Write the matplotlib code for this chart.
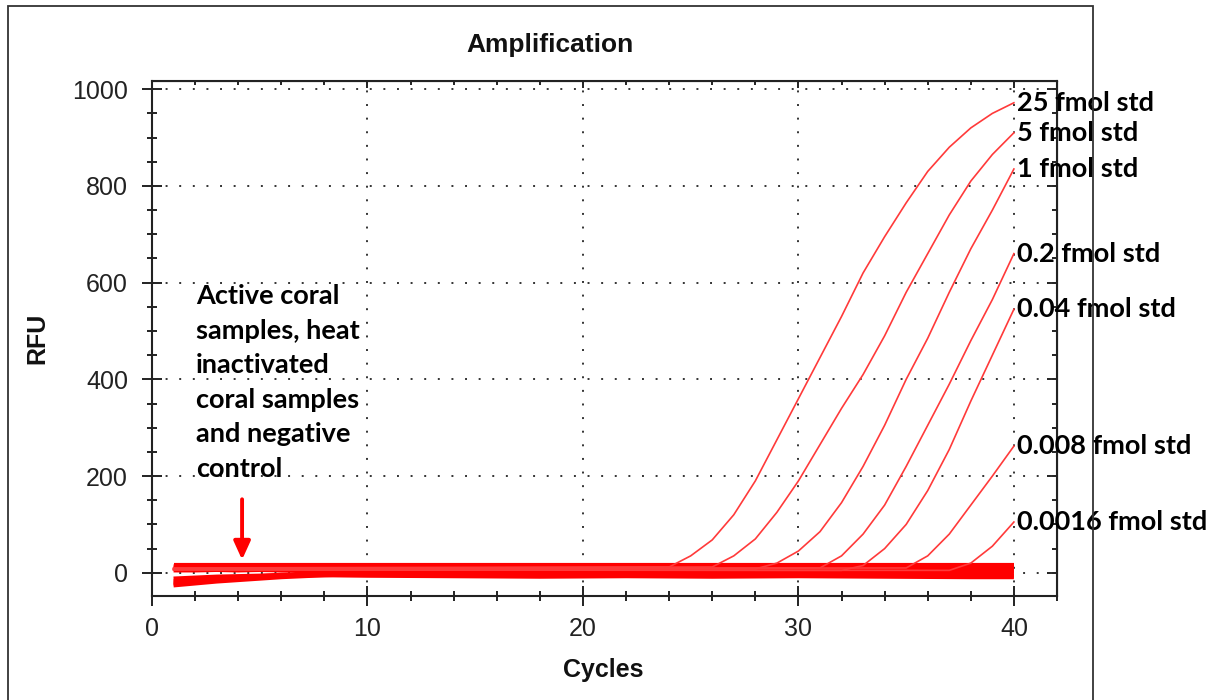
import matplotlib.pyplot as plt
from matplotlib.patches import Rectangle
from matplotlib.ticker import MultipleLocator

# standard curves: cycle numbers and RFU
std_labels = ["25 fmol std", "5 fmol std", "1 fmol std", "0.2 fmol std",
              "0.04 fmol std", "0.008 fmol std", "0.0016 fmol std"]

std25_c = [1, 24, 25, 26, 27, 28, 29, 30, 31, 32, 33, 34, 35, 36, 37, 38, 39, 40]
std25_v = [10, 12, 35, 68, 120, 190, 275, 360, 445, 530, 620, 695, 765, 830, 880, 920, 950, 972]

std5_c = [1, 26, 27, 28, 29, 30, 31, 32, 33, 34, 35, 36, 37, 38, 39, 40]
std5_v = [8, 12, 35, 70, 125, 190, 265, 340, 410, 490, 580, 660, 740, 810, 865, 910]

std1_c = [1, 28, 29, 30, 31, 32, 33, 34, 35, 36, 37, 38, 39, 40]
std1_v = [7, 8, 20, 45, 85, 145, 220, 305, 400, 485, 580, 670, 750, 835]

std02_c = [1, 31, 32, 33, 34, 35, 36, 37, 38, 39, 40]
std02_v = [9, 10, 35, 80, 140, 220, 305, 390, 480, 565, 660]

std004_c = [1, 32, 33, 34, 35, 36, 37, 38, 39, 40]
std004_v = [6, 5, 15, 50, 100, 170, 255, 355, 450, 545]

std0008_c = [1, 35, 36, 37, 38, 39, 40]
std0008_v = [8, 10, 35, 80, 140, 200, 262]

std00016_c = [1, 37, 38, 39, 40]
std00016_v = [6, 5, 20, 55, 105]

std_c = [std25_c, std5_c, std1_c, std02_c, std004_c, std0008_c, std00016_c]
std_v = [std25_v, std5_v, std1_v, std02_v, std004_v, std0008_v, std00016_v]

# samples and negative control (flat traces)
base_c = [1, 2, 3, 4, 5, 6, 8, 10, 14, 18, 22, 26, 30, 34, 38, 40]
samp1 = [16, 16, 16, 16, 16, 16, 16, 16, 16, 16, 16, 16, 16, 16, 16, 16]
samp2 = [13, 13, 12, 13, 13, 12, 13, 12, 13, 12, 13, 12, 13, 12, 13, 13]
samp3 = [9, 9, 10, 9, 9, 10, 9, 10, 9, 10, 9, 10, 9, 9, 10, 9]
samp4 = [-22, -18, -14, -10, -7, -4, 0, 2, 3, 3, 2, 3, 2, 3, 2, 3]
samp5 = [-26, -22, -18, -15, -12, -9, -5, -2, 0, -1, 0, -1, 0, -1, 0, -1]
samp6 = [-18, -15, -12, -10, -8, -6, -4, -3, -4, -5, -4, -5, -6, -5, -6, -6]
samp7 = [-12, -10, -8, -7, -6, -5, -5, -6, -7, -8, -7, -8, -7, -8, -9, -9]
neg_ctrl = [5, 5, 6, 5, 6, 5, 6, 5, 6, 5, 6, 5, 6, 5, 6, 6]
baselines = [samp1, samp2, samp3, samp4, samp5, samp6, samp7, neg_ctrl]

W, H = 1213, 700
fig = plt.figure(figsize=(W / 100, H / 100), dpi=100)
ax = fig.add_axes([152 / W, 1 - 596 / H, (1057 - 152) / W, (596 - 81) / H])

for b in baselines:
    ax.plot(base_c, b, color="red", lw=3.0, solid_capstyle="butt")
for c, v in zip(std_c, std_v):
    ax.plot(c, v, color="#ff3a3a", lw=1.2)

ax.set_xlim(0, 42)
ax.set_ylim(-48, 1017)
ax.xaxis.set_major_locator(MultipleLocator(10))
ax.xaxis.set_minor_locator(MultipleLocator(2))
ax.yaxis.set_major_locator(MultipleLocator(200))
ax.yaxis.set_minor_locator(MultipleLocator(50))
ax.grid(True, which="major", color="#333333", lw=1.4, linestyle=(0, (1, 6)))
ax.set_axisbelow(True)

ax.tick_params(which="major", direction="inout", length=14.5, width=1.4,
               color="#222222", labelcolor="#222222", labelsize=18)
ax.tick_params(which="minor", direction="inout", length=7.2, width=1.4, color="#222222")
ax.tick_params(axis="y", pad=10)
ax.tick_params(axis="x", pad=8)
for lab in ax.get_xticklabels() + ax.get_yticklabels():
    lab.set_family("Liberation Sans")
for sp in ax.spines.values():
    sp.set_linewidth(1.5)
    sp.set_color("#222222")

# inward ticks on top and right
top = ax.secondary_xaxis("top")
top.xaxis.set_major_locator(MultipleLocator(10))
top.xaxis.set_minor_locator(MultipleLocator(2))
top.tick_params(which="major", direction="in", length=5, width=1.4, labeltop=False, color="#222222")
top.tick_params(which="minor", direction="in", length=3, width=1.4, color="#222222")
right = ax.secondary_yaxis("right")
right.yaxis.set_major_locator(MultipleLocator(200))
right.yaxis.set_minor_locator(MultipleLocator(50))
right.tick_params(which="major", direction="in", length=7, width=1.4, labelright=False, color="#222222")
right.tick_params(which="minor", direction="in", length=3.5, width=1.4, color="#222222")

# curve labels at the end of each standard
for lab, c, v in zip(std_labels, std_c, std_v):
    ax.text(c[-1] + 0.15, v[-1], lab, ha="left", va="center", fontsize=19.5,
            fontweight="bold", family="Lato", color="black", clip_on=False)

ax.annotate("", xy=(4.18, 27), xytext=(4.18, 152),
            arrowprops=dict(arrowstyle="-|>,head_length=0.55,head_width=0.25",
                            color="red", lw=2.8, mutation_scale=20,
                            shrinkA=0, shrinkB=0))
fig.text(196 / W, 1 - 284 / H,
         "Active coral\nsamples, heat\ninactivated\ncoral samples\nand negative\ncontrol",
         ha="left", va="top", fontsize=19.5, fontweight="bold", family="Lato",
         linespacing=1.53)

fig.text(550 / W, 1 - 45 / H, "Amplification", ha="center", va="center",
         fontsize=19, fontweight="bold", family="Liberation Sans", color="#111111")
fig.text(37 / W, 1 - 338 / H, "RFU", ha="center", va="center", rotation=90,
         fontsize=18, fontweight="bold", family="Liberation Sans", color="#111111")
fig.text(603 / W, 1 - 670 / H, "Cycles", ha="center", va="center",
         fontsize=18, fontweight="bold", family="Liberation Sans", color="#111111")

# outer frame
fig.add_artist(Rectangle((8 / W, -0.01), (1093 - 8) / W, 1 - 6 / H + 0.01,
                         transform=fig.transFigure, fill=False,
                         edgecolor="#333333", lw=1.3))

fig.savefig("out.png", dpi=100)
